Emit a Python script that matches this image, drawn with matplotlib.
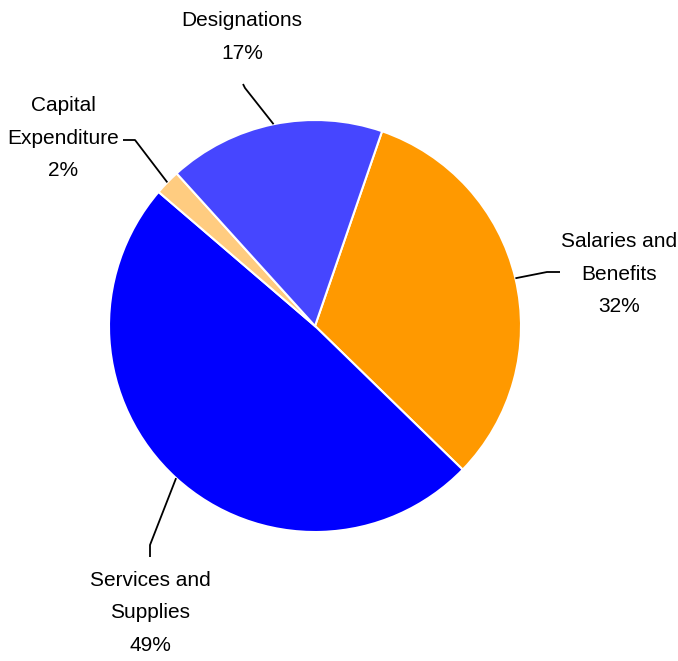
import numpy as np
import matplotlib.pyplot as plt

plt.rcParams['font.family'] = ['Liberation Sans', 'DejaVu Sans']

categories = ['Salaries and\nBenefits', 'Services and\nSupplies', 'Capital\nExpenditure', 'Designations']
shares = [32, 49, 2, 17]
colors = ['#ff9900', '#0000ff', '#ffcc80', '#4646ff']

# label layout: elbow point of leader line and text centre (figure pixels, y down)
elbows = [(547, 272), (150, 545), (135, 140), (245, 88)]
ends = [(560, 272), (150, 557), (123, 140), (243, 84)]
text_pos = [(619, 274), (150, 613), (63, 138), (242, 37)]

W, H = 678, 661
cx, cy, r = 315, 326, 206

fig = plt.figure(figsize=(W / 100, H / 100), dpi=100)
ax = fig.add_axes([0, 0, 1, 1])

wedges, _ = ax.pie(shares, colors=colors, startangle=71, counterclock=False,
                   center=(cx, H - cy), radius=r, frame=True,
                   wedgeprops=dict(edgecolor='white', linewidth=1.5))
ax.axis('off')
ax.set_xlim(0, W)
ax.set_ylim(0, H)
ax.set_aspect('equal')

for w, cat, v, e, end, tp in zip(wedges, categories, shares, elbows, ends, text_pos):
    mid = np.deg2rad((w.theta1 + w.theta2) / 2)
    x0 = cx + r * np.cos(mid)
    y0 = (H - cy) + r * np.sin(mid)
    ax.plot([x0, e[0], end[0]], [y0, H - e[1], H - end[1]], color='black', lw=1.3,
            solid_capstyle='butt')
    ax.text(tp[0], H - tp[1], f'{cat}\n{v}%', ha='center', va='center',
            fontsize=15, linespacing=1.93)

fig.savefig('out.png', dpi=100)
